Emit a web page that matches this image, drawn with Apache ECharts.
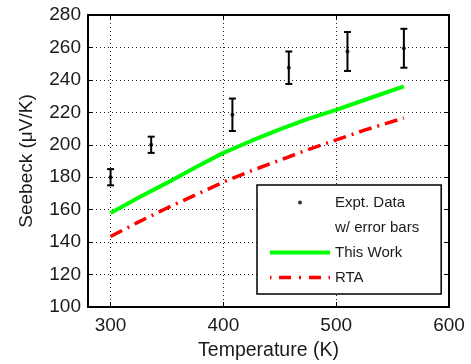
<!DOCTYPE html>
<html><head><meta charset="utf-8">
<script src="https://cdn.jsdelivr.net/npm/echarts@6/dist/echarts.min.js"></script>
<style>html,body{margin:0;padding:0;background:#fff}#c{width:471px;height:364px}</style>
</head><body><div id="c"></div>
<script>
const xTickValues = [300, 400, 500, 600];
const exptTemp = [300, 336, 408, 458, 510, 560];
const exptSeebeck = [180, 200, 218.5, 247.5, 257.5, 259.5];
const exptErr = [5, 5, 10, 10, 12, 12];
const workTemp = [300, 325, 350, 375, 400, 425, 450, 475, 500, 525, 560];
const workSeebeck = [158, 167.5, 176.5, 186, 195, 202.5, 209.5, 216, 221.5, 227.6, 236];
const rtaTemp = [300, 325, 350, 375, 400, 425, 450, 475, 500, 525, 560];
const rtaSeebeck = [143.5, 152.5, 161, 169, 177, 184, 190.5, 197, 203, 209, 216.5];

const FONT = '"Liberation Sans", Arial, Helvetica, sans-serif';
const TXT = '#1a1a1a';
const chart = echarts.init(document.getElementById('c'));

const exptPts = exptTemp.map((t, i) => [t, exptSeebeck[i]]);
const errPts = exptTemp.map((t, i) => [t, exptSeebeck[i] - exptErr[i], exptSeebeck[i] + exptErr[i]]);
const workPts = workTemp.map((t, i) => [t, workSeebeck[i]]);
const rtaPts = rtaTemp.map((t, i) => [t, rtaSeebeck[i]]);

const axisLine = {show: true, lineStyle: {color: '#000', width: 2}};
const grid = {lineStyle: {color: '#222', width: 1, type: [1, 3]}};
// invisible corner marks keep every legend icon on a 60x14 box
const BOX = 'M0 0h0.02v0.02h-0.02zM59.98 13.98h0.02v0.02h-0.02z';

chart.setOption({
  animation: false,
  grid: {left: 88, right: 22, top: 15, bottom: 57, containLabel: false, outerBoundsMode: 'none'},
  xAxis: [{
    type: 'value', min: 280, max: 600, position: 'bottom',
    name: 'Temperature (K)', nameLocation: 'middle', nameGap: 34,
    nameTextStyle: {fontSize: 19.5, fontFamily: FONT, color: TXT},
    axisLine: axisLine,
    axisTick: {show: true, inside: true, length: 5, customValues: xTickValues, lineStyle: {color: '#000', width: 1}},
    axisLabel: {customValues: xTickValues, fontSize: 19, fontFamily: FONT, color: TXT, margin: 9},
    splitLine: Object.assign({show: true}, grid)
  }, {
    type: 'value', min: 280, max: 600, position: 'top',
    axisLine: axisLine,
    axisTick: {show: true, inside: true, length: 5, customValues: xTickValues, lineStyle: {color: '#000', width: 1}},
    axisLabel: {show: false}, splitLine: {show: false}
  }],
  yAxis: [{
    type: 'value', min: 100, max: 280, interval: 20, position: 'left',
    name: 'Seebeck (\u03bcV/K)', nameLocation: 'middle', nameGap: 52,
    nameTextStyle: {fontSize: 19, fontFamily: FONT, color: TXT},
    axisLine: axisLine,
    axisTick: {show: true, inside: true, length: 5, lineStyle: {color: '#000', width: 1}},
    axisLabel: {fontSize: 19, fontFamily: FONT, color: TXT, margin: 7},
    splitLine: Object.assign({show: true}, grid)
  }, {
    type: 'value', min: 100, max: 280, interval: 20, position: 'right',
    axisLine: axisLine,
    axisTick: {show: true, inside: true, length: 5, lineStyle: {color: '#000', width: 1}},
    axisLabel: {show: false}, splitLine: {show: false}
  }],
  legend: {
    orient: 'vertical', left: 257, top: 185, padding: [10, 22, 9, 13], itemGap: 10,
    itemWidth: 60, itemHeight: 14, borderColor: '#000', borderWidth: 1.5, borderRadius: 0,
    backgroundColor: '#fff', selectedMode: false,
    textStyle: {fontSize: 15, fontFamily: FONT, color: TXT},
    data: [
      {name: 'Expt. Data', icon: 'path://' + BOX + 'M28 7a2 2 0 1 0 4 0a2 2 0 1 0 -4 0z', itemStyle: {color: '#000'}},
      {name: 'w/ error bars', icon: 'rect', itemStyle: {opacity: 0}},
      {name: 'This Work', icon: 'path://' + BOX + 'M0 5h60v4H0z', itemStyle: {color: '#00ff00'}},
      {name: 'RTA', icon: 'path://' + BOX + 'M0 5.25h1.5v3.5h-1.5zM9 5.25h12v3.5h-12zM29 5.25h2v3.5h-2zM39 5.25h12v3.5h-12zM58.5 5.25h1.5v3.5h-1.5z', itemStyle: {color: '#ff0000'}}
    ]
  },
  series: [
    {
      name: 'This Work', type: 'line', data: workPts, showSymbol: false, symbol: 'none',
      lineStyle: {color: '#00ff00', width: 4}, itemStyle: {color: '#00ff00'}, z: 3
    },
    {
      name: 'RTA', type: 'line', data: rtaPts, showSymbol: false, symbol: 'none',
      lineStyle: {color: '#ff0000', width: 3.5, type: [13, 6, 2, 6], cap: 'butt'}, itemStyle: {color: '#ff0000'}, z: 3
    },
    {
      name: 'errbars', type: 'custom', data: errPts, z: 4,
      renderItem: function (params, api) {
        const x = api.value(0);
        const lo = api.coord([x, api.value(1)]);
        const hi = api.coord([x, api.value(2)]);
        const hw = 3.5;
        const st = {stroke: '#000', lineWidth: 2};
        return {type: 'group', children: [
          {type: 'line', shape: {x1: lo[0], y1: lo[1], x2: hi[0], y2: hi[1]}, style: st},
          {type: 'line', shape: {x1: lo[0] - hw, y1: lo[1], x2: lo[0] + hw, y2: lo[1]}, style: st},
          {type: 'line', shape: {x1: hi[0] - hw, y1: hi[1], x2: hi[0] + hw, y2: hi[1]}, style: st}
        ]};
      }
    },
    {
      name: 'Expt. Data', type: 'scatter', data: exptPts, symbol: 'circle', symbolSize: 4,
      itemStyle: {color: '#000'}, z: 5
    },
    {name: 'w/ error bars', type: 'scatter', data: []}
  ]
});
</script></body></html>
